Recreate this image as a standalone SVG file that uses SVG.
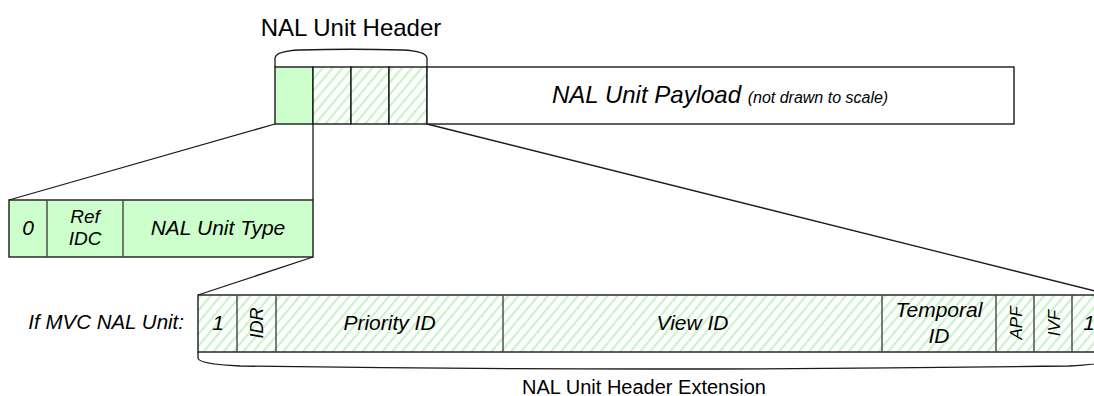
<svg xmlns="http://www.w3.org/2000/svg" width="1094" height="396" viewBox="0 0 1094 396">
  <defs>
    <!-- light diagonal hatching for the extension bytes -->
    <pattern id="hatch" patternUnits="userSpaceOnUse" width="7.6" height="7.6" patternTransform="rotate(40)">
      <rect width="7.6" height="7.6" fill="#ffffff"/>
      <line x1="2" y1="0" x2="2" y2="7.6" stroke="#c9f3c9" stroke-width="2.2"/>
    </pattern>
    <style>
      .cell { stroke: #1a1a1a; stroke-width: 1.4; }
      .solid { fill: #ccffcc; }
      .hatched { fill: url(#hatch); }
      .plain { fill: #ffffff; }
      .div { stroke: #444; stroke-width: 1.4; fill: none; }
      .edge { stroke: #1a1a1a; stroke-width: 1.3; fill: none; }
      .brace { stroke: #1a1a1a; stroke-width: 1.3; fill: none; }
      text { font-family: "Liberation Sans", Arial, sans-serif; fill: #000; }
      .it { font-style: italic; }
    </style>
  </defs>

  <!-- connectors between the byte views -->
  <g id="connectors">
    <line class="edge" x1="275" y1="124" x2="9" y2="200"/>
    <line class="edge" x1="313" y1="124" x2="313" y2="200"/>
    <line class="edge" x1="313" y1="257" x2="198" y2="295"/>
    <line class="edge" x1="427" y1="124" x2="1111" y2="295"/>
  </g>

  <!-- NAL unit: header bytes + payload -->
  <g id="nal-unit">
    <text x="351" y="35.5" font-size="24" text-anchor="middle">NAL Unit Header</text>
    <path class="brace" d="M275,67 V58 Q276,51 300,50 Q351,48.5 402,50 Q426,51 427,58 V67"/>
    <rect class="cell solid" x="275" y="67" width="38" height="57"/>
    <rect class="cell hatched" x="313" y="67" width="38" height="57"/>
    <rect class="cell hatched" x="351" y="67" width="38" height="57"/>
    <rect class="cell hatched" x="389" y="67" width="38" height="57"/>
    <rect class="cell plain" x="427" y="67" width="587" height="57"/>
    <text x="552" y="103" font-size="24" class="it">NAL Unit Payload <tspan font-size="16">(not drawn to scale)</tspan></text>
  </g>

  <!-- first header byte -->
  <g id="header-byte">
    <rect class="cell solid" x="9" y="200" width="304" height="57"/>
    <line class="div" x1="47" y1="200" x2="47" y2="257"/>
    <line class="div" x1="123" y1="200" x2="123" y2="257"/>
    <text x="28" y="235" font-size="21" class="it" text-anchor="middle">0</text>
    <text x="85" y="223" font-size="19" class="it" text-anchor="middle">Ref</text>
    <text x="85" y="245" font-size="19" class="it" text-anchor="middle">IDC</text>
    <text x="218" y="235" font-size="21" class="it" text-anchor="middle">NAL Unit Type</text>
  </g>

  <!-- MVC header extension -->
  <g id="header-extension">
    <text x="184" y="329" font-size="20.5" class="it" text-anchor="end">If MVC NAL Unit:</text>
    <rect class="cell hatched" x="198" y="295" width="913" height="57"/>
    <line class="div" x1="237" y1="295" x2="237" y2="352"/>
    <line class="div" x1="276" y1="295" x2="276" y2="352"/>
    <line class="div" x1="503" y1="295" x2="503" y2="352"/>
    <line class="div" x1="882" y1="295" x2="882" y2="352"/>
    <line class="div" x1="996" y1="295" x2="996" y2="352"/>
    <line class="div" x1="1034" y1="295" x2="1034" y2="352"/>
    <line class="div" x1="1072" y1="295" x2="1072" y2="352"/>
    <text x="218" y="330" font-size="21" class="it" text-anchor="middle">1</text>
    <text transform="translate(263,323) rotate(-90)" font-size="18" class="it" text-anchor="middle">IDR</text>
    <text x="389.5" y="330" font-size="21" class="it" text-anchor="middle">Priority ID</text>
    <text x="692.5" y="330" font-size="21" class="it" text-anchor="middle">View ID</text>
    <text x="939" y="317" font-size="21" class="it" text-anchor="middle">Temporal</text>
    <text x="939" y="343" font-size="21" class="it" text-anchor="middle">ID</text>
    <text transform="translate(1021.5,323) rotate(-90)" font-size="17" class="it" text-anchor="middle">APF</text>
    <text transform="translate(1059.5,323) rotate(-90)" font-size="17" class="it" text-anchor="middle">IVF</text>
    <text x="1089" y="330" font-size="21" class="it" text-anchor="middle">1</text>
    <path class="brace" d="M198,352 V358 Q198,364 240,366 Q654,372 1069,366 Q1111,364 1111,358 V352"/>
    <text x="644" y="394" font-size="20" text-anchor="middle">NAL Unit Header Extension</text>
  </g>
</svg>
